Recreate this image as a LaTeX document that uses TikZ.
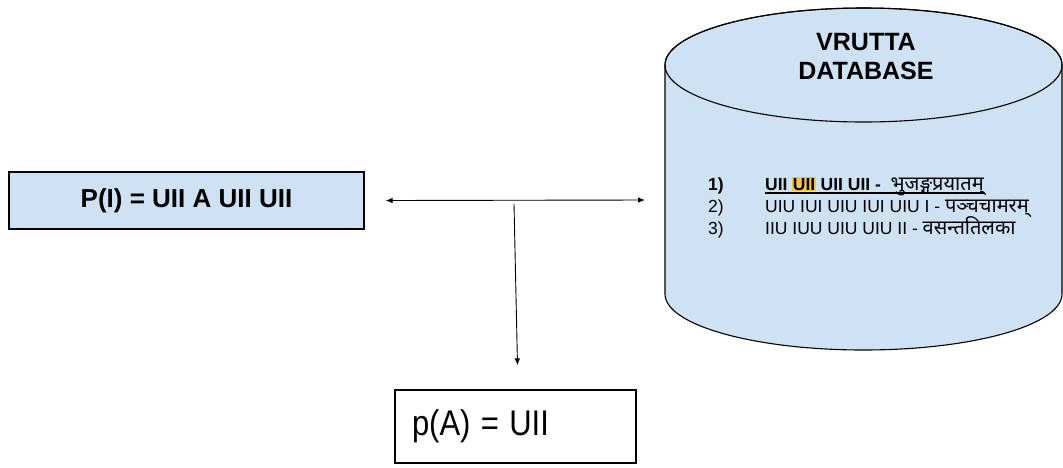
\documentclass[tikz,border=0pt]{standalone}
\usepackage{fontspec}
\setmainfont{Liberation Sans}
\newfontfamily\devafont[Script=Devanagari]{Noto Sans}
\usepackage{xcolor}
\usepackage{tikz}
\usetikzlibrary{positioning, arrows.meta}
\definecolor{boxblue}{RGB}{207,226,243}
\definecolor{markyellow}{RGB}{250,198,70}
\newcommand{\hlmark}[1]{{\setlength{\fboxsep}{0.5pt}\colorbox{markyellow}{#1}}}
\newcommand{\deva}[1]{{\devafont\fontsize{20pt}{22pt}\selectfont #1}}

\begin{document}
\begin{tikzpicture}[x=1pt,y=-1pt,
  >={Latex[length=7pt,width=5.5pt]},
  pbox/.style={draw, line width=1.3pt, inner sep=0pt, align=center},
  dbtitle/.style={align=center, font=\fontsize{25pt}{29pt}\selectfont\bfseries},
  row/.style={anchor=base west, inner sep=0pt, font=\fontsize{17.5pt}{20pt}\selectfont},
  boldrow/.style={row, font=\fontsize{17.5pt}{20pt}\selectfont\bfseries},
  link/.style={line width=0.9pt}]
  \useasboundingbox (0,0) rectangle (1063,467);

  % database cylinder
  \draw[fill=boxblue, line width=1.1pt] (665,65) -- (665,294)
    arc[start angle=180, end angle=360, x radius=198.5pt, y radius=56pt] -- (1062,65)
    arc[start angle=0, end angle=180, x radius=198.5pt, y radius=57pt] -- cycle;
  \draw[line width=1.1pt] (863.5,65) ellipse[x radius=198.5pt, y radius=57pt];
  \node[dbtitle] (dbname) at (866,57) {VRUTTA\\DATABASE};

  \node[boldrow] (n1) at (708,190) {1)};
  \node[boldrow] (v1) at (765,190)
    {UII \hlmark{UII} UII UII -\ \ \deva{भुजङ्गप्रयातम्}};
  \draw[line width=1.3pt] ([yshift=-3pt]v1.base west) -- ([yshift=-3pt]v1.base east);
  \node[row] (n2) at (708,212) {2)};
  \node[row] (v2) at (765,212) {UIU IUI UIU IUI UIU I - \deva{पञ्चचामरम्}};
  \node[row] (n3) at (708,234) {3)};
  \node[row] (v3) at (765,234) {IIU IUU UIU UIU II - \deva{वसन्ततिलका}};

  % pattern boxes
  \node[pbox, fill=boxblue, minimum width=355pt, minimum height=57pt,
    font=\fontsize{26pt}{30pt}\selectfont\bfseries] (pI) at (186.5,200.5) {P(I) = UII A UII UII};
  \node[pbox, minimum width=241pt, minimum height=73pt, text width=207pt, align=left,
    font=\fontsize{31pt}{36pt}\selectfont] (pA) at (515.5,426.5) {\scalebox{1}[1.15]{p(A) = UII}};

  % connectors
  \coordinate (dbin) at (645,200);
  \coordinate (split) at (514,204);
  \draw[link, <->] ([xshift=21pt]pI.east) -- (dbin);
  \draw[link, ->] (split) -- ([xshift=2pt,yshift=24pt]pA.north);
\end{tikzpicture}
\end{document}
